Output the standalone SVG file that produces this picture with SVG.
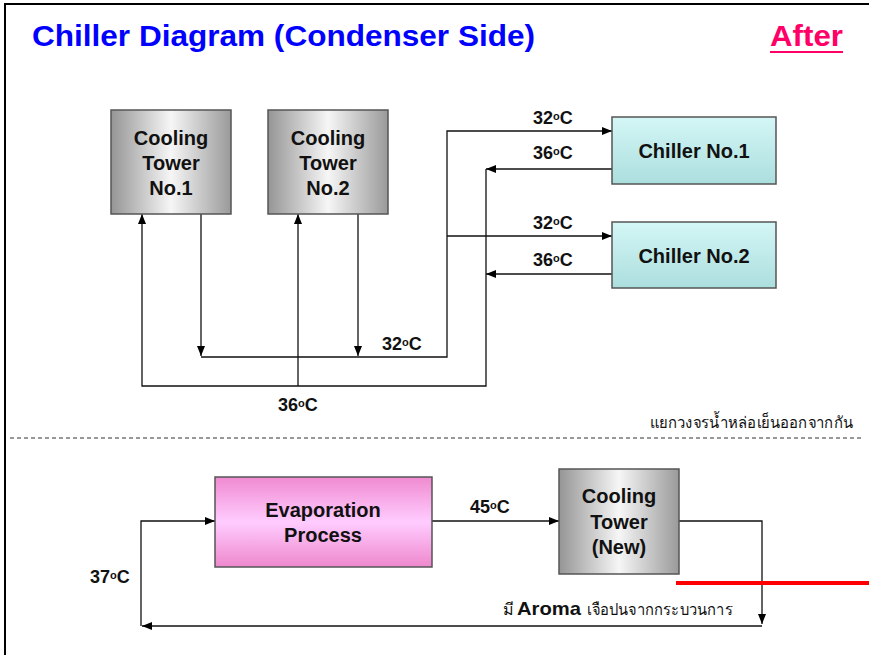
<svg xmlns="http://www.w3.org/2000/svg" width="869" height="655" viewBox="0 0 869 655">
<defs>
<linearGradient id="gGray" x1="0" y1="0" x2="1" y2="0">
<stop offset="0" stop-color="#959595"/>
<stop offset="0.5" stop-color="#f6f6f6"/>
<stop offset="1" stop-color="#9a9a9a"/>
</linearGradient>
<linearGradient id="gCyan" x1="0" y1="0" x2="0" y2="1">
<stop offset="0" stop-color="#d4f6f6"/>
<stop offset="1" stop-color="#acdede"/>
</linearGradient>
<linearGradient id="gPink" x1="0" y1="0" x2="0" y2="1">
<stop offset="0" stop-color="#f08ad0"/>
<stop offset="0.5" stop-color="#ffccff"/>
<stop offset="1" stop-color="#ee88cc"/>
</linearGradient>
<marker id="arr" viewBox="0 0 10 8" refX="10" refY="4" markerWidth="11" markerHeight="8" markerUnits="userSpaceOnUse" orient="auto">
<path d="M0,0 L10,4 L0,8 Z" fill="#000"/>
</marker>
<style>
.box{stroke:#555;stroke-width:1.5}
.bt{font-family:"Liberation Sans",Arial,sans-serif;font-weight:bold;font-size:20px;fill:#111;text-anchor:middle}
.tl{font-family:"Liberation Sans",Arial,sans-serif;font-weight:bold;font-size:18px;fill:#111}
.deg{font-size:11px}
.ln{fill:none;stroke:#111;stroke-width:1.3}
.thai{font-family:"Noto Sans","DejaVu Sans","Liberation Serif",serif;font-size:16px;fill:#111}
</style>
</defs>
<rect width="869" height="655" fill="#fff"/>
<path d="M5,655 V4 H869" fill="none" stroke="#000" stroke-width="2"/>
<text x="32" y="46" font-family="'Liberation Sans',Arial,sans-serif" font-weight="bold" font-size="29" fill="#0000ff" textLength="503" lengthAdjust="spacingAndGlyphs">Chiller Diagram (Condenser Side)</text>
<text x="770" y="46" font-family="'Liberation Sans',Arial,sans-serif" font-weight="bold" font-size="29" fill="#ff0066" textLength="73" lengthAdjust="spacingAndGlyphs">After</text>
<line x1="770" y1="52" x2="843" y2="52" stroke="#ff0066" stroke-width="2"/>

<g id="connectors">
<path class="ln" d="M201,214 V356" marker-end="url(#arr)"/>
<path class="ln" d="M358,214 V356" marker-end="url(#arr)"/>
<path class="ln" d="M201,357 H447 V131 H612" marker-end="url(#arr)"/>
<path class="ln" d="M447,236 H612" marker-end="url(#arr)"/>
<path class="ln" d="M612,169 H486" marker-end="url(#arr)"/>
<path class="ln" d="M612,274 H486" marker-end="url(#arr)"/>
<path class="ln" d="M486,169 V386 H142 V214" marker-end="url(#arr)"/>
<path class="ln" d="M298,386 V214" marker-end="url(#arr)"/>
<path class="ln" d="M432,521 H559" marker-end="url(#arr)"/>
<path class="ln" d="M679,521 H762 V624" marker-end="url(#arr)"/>
<path class="ln" d="M762,626 H142" marker-end="url(#arr)"/>
<path class="ln" d="M141,626 V521 H215" marker-end="url(#arr)"/>
</g>

<g id="ct1">
<rect class="box" x="111" y="110" width="120" height="104" fill="url(#gGray)"/>
<text class="bt" x="171" y="145">Cooling</text>
<text class="bt" x="171" y="170">Tower</text>
<text class="bt" x="171" y="195">No.1</text>
</g>
<g id="ct2">
<rect class="box" x="268" y="110" width="120" height="104" fill="url(#gGray)"/>
<text class="bt" x="328" y="145">Cooling</text>
<text class="bt" x="328" y="170">Tower</text>
<text class="bt" x="328" y="195">No.2</text>
</g>
<g id="chiller1">
<rect class="box" x="612" y="117" width="164" height="67" fill="url(#gCyan)"/>
<text class="bt" x="694" y="158">Chiller No.1</text>
</g>
<g id="chiller2">
<rect class="box" x="612" y="222" width="164" height="66" fill="url(#gCyan)"/>
<text class="bt" x="694" y="263">Chiller No.2</text>
</g>
<g id="evap">
<rect class="box" x="215" y="477" width="217" height="90" fill="url(#gPink)"/>
<text class="bt" x="323" y="517">Evaporation</text>
<text class="bt" x="323" y="542">Process</text>
</g>
<g id="ctnew">
<rect class="box" x="559" y="469" width="120" height="105" fill="url(#gGray)"/>
<text class="bt" x="619" y="503">Cooling</text>
<text class="bt" x="619" y="529">Tower</text>
<text class="bt" x="619" y="554">(New)</text>
</g>

<g id="labels">
<text class="tl" x="533" y="124">32<tspan class="deg" dy="-4">o</tspan><tspan dy="4">C</tspan></text>
<text class="tl" x="533" y="159">36<tspan class="deg" dy="-4">o</tspan><tspan dy="4">C</tspan></text>
<text class="tl" x="533" y="229">32<tspan class="deg" dy="-4">o</tspan><tspan dy="4">C</tspan></text>
<text class="tl" x="533" y="266">36<tspan class="deg" dy="-4">o</tspan><tspan dy="4">C</tspan></text>
<text class="tl" x="382" y="350">32<tspan class="deg" dy="-4">o</tspan><tspan dy="4">C</tspan></text>
<text class="tl" x="278" y="411">36<tspan class="deg" dy="-4">o</tspan><tspan dy="4">C</tspan></text>
<text class="tl" x="470" y="513">45<tspan class="deg" dy="-4">o</tspan><tspan dy="4">C</tspan></text>
<text class="tl" x="90" y="583">37<tspan class="deg" dy="-4">o</tspan><tspan dy="4">C</tspan></text>
<text class="thai" x="650" y="428" textLength="203" lengthAdjust="spacingAndGlyphs">แยกวงจรน้ำหล่อเย็นออกจากกัน</text>
<text class="thai" x="503" y="615">มี <tspan x="517" font-family="'Liberation Sans',Arial,sans-serif" font-weight="bold" font-size="19" textLength="64" lengthAdjust="spacingAndGlyphs">Aroma</tspan><tspan x="587" textLength="146" lengthAdjust="spacingAndGlyphs">เจือปนจากกระบวนการ</tspan></text>
</g>

<line x1="10" y1="438" x2="862" y2="438" stroke="#333" stroke-width="1" stroke-dasharray="4,3"/>
<line x1="676" y1="583" x2="869" y2="583" stroke="#ff0000" stroke-width="4"/>
</svg>
